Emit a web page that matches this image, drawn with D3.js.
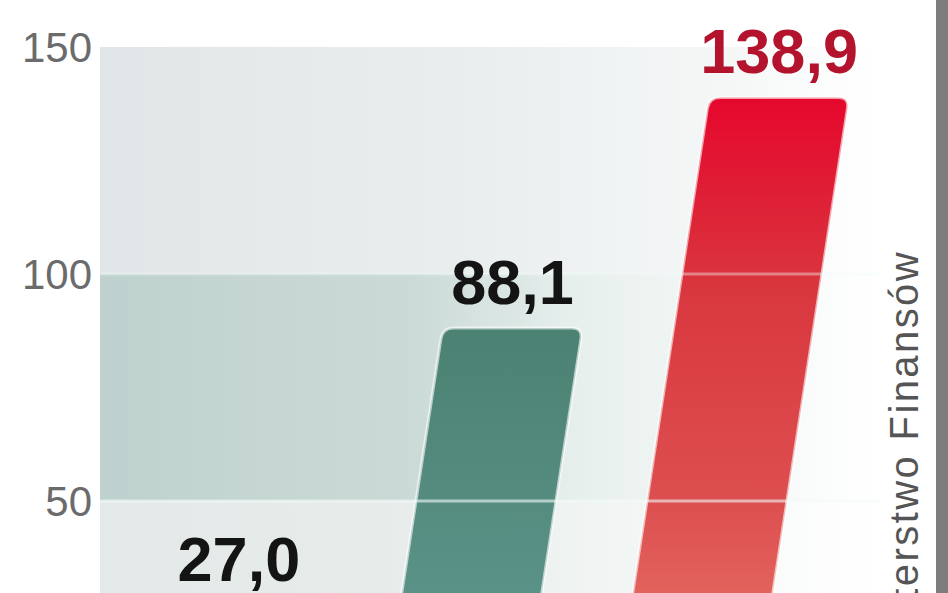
<!DOCTYPE html>
<html lang="pl">
<head>
<meta charset="utf-8">
<title>Wykres</title>
<script src="https://cdn.jsdelivr.net/npm/d3@7"></script>
<style>
  html, body { margin: 0; padding: 0; background: #fff; }
  svg { display: block; }
</style>
</head>
<body>
<script>
// dane
var categories = ["I", "II", "III"];
var values = [27.0, 88.1, 138.9];
var valueLabels = ["27,0", "88,1", "138,9"];
var ticks = [50, 100, 150];
var source = "Ministerstwo Finansów";

var W = 948, H = 593;
var svg = d3.select("body").append("svg")
  .attr("width", W)
  .attr("height", H);

var y = d3.scaleLinear().domain([0, 150]).range([728, 47]);
// srodki slupkow na linii zera
var x = d3.scalePoint().domain(categories).range([220, 682]);
var barW = 140;
var k = 0.154;      // pochylenie slupkow
var rr = 11;        // zaokraglenie
function off(yy) { return (y(0) - yy) * k; }

var defs = svg.append("defs");

function hGrad(id, stops) {
  var g = defs.append("linearGradient").attr("id", id)
    .attr("x1", 0).attr("x2", 1).attr("y1", 0).attr("y2", 0);
  stops.forEach(function(s) {
    g.append("stop").attr("offset", s[0]).attr("stop-color", s[1]);
  });
}
function vGrad(id, stops) {
  var g = defs.append("linearGradient").attr("id", id)
    .attr("gradientUnits", "userSpaceOnUse")
    .attr("x1", 0).attr("x2", 0).attr("y1", 0).attr("y2", H);
  stops.forEach(function(s) {
    g.append("stop").attr("offset", s[0]).attr("stop-color", s[1]);
  });
}

hGrad("bandTop", [[0, "#e1e6e8"], [0.45, "#e8edee"], [0.8, "#f5f7f7"], [1, "#ffffff"]]);
hGrad("bandMid", [[0, "#bfd1ce"], [0.4, "#cadad7"], [0.62, "#e8f0ee"], [1, "#ffffff"]]);
hGrad("bandLow", [[0, "#e3e9e8"], [0.45, "#e8edec"], [0.75, "#f5f8f7"], [1, "#ffffff"]]);
vGrad("gGreen", [[0, "#3a7a67"], [0.55, "#4a8172"], [1, "#5b9287"]]);
vGrad("gRed", [[0.15, "#e6052c"], [0.5, "#d9383f"], [0.85, "#dd4f50"], [1, "#e2625c"]]);

// pasy tla
var bx0 = 100, bx1 = 880;
var bands = [
  { from: 100, to: 150, fill: "url(#bandTop)" },
  { from: 50, to: 100, fill: "url(#bandMid)" },
  { from: 0, to: 50, fill: "url(#bandLow)" }
];
svg.selectAll("rect.band")
  .data(bands)
  .enter().append("rect")
  .attr("class", "band")
  .attr("x", bx0)
  .attr("width", bx1 - bx0)
  .attr("y", function(d) { return y(d.to); })
  .attr("height", function(d) { return y(d.from) - y(d.to); })
  .attr("fill", function(d) { return d.fill; });

// slupki
function barPath(d, i) {
  var c = x(categories[i]);
  var top = y(d);
  var base = y(0);
  var lx0 = c - barW / 2, rx0 = c + barW / 2;
  var p = d3.path();
  p.moveTo(lx0, base);
  p.lineTo(lx0 + off(top + rr), top + rr);
  p.quadraticCurveTo(lx0 + off(top), top, lx0 + off(top) + rr, top);
  p.lineTo(rx0 + off(top) - rr, top);
  p.quadraticCurveTo(rx0 + off(top), top, rx0 + off(top + rr), top + rr);
  p.lineTo(rx0, base);
  p.closePath();
  return p.toString();
}
var fills = ["url(#gGreen)", "url(#gGreen)", "url(#gRed)"];

svg.selectAll("path.bar")
  .data(values)
  .enter().append("path")
  .attr("class", "bar")
  .attr("d", barPath)
  .attr("fill", function(d, i) { return fills[i]; })
  .attr("stroke", "#ffffff")
  .attr("stroke-opacity", 0.6)
  .attr("stroke-width", 3);

// linie siatki
svg.selectAll("line.grid")
  .data([50, 100])
  .enter().append("line")
  .attr("class", "grid")
  .attr("x1", bx0).attr("x2", bx1)
  .attr("y1", function(d) { return y(d); })
  .attr("y2", function(d) { return y(d); })
  .attr("stroke", "#f3fbf9")
  .attr("stroke-opacity", function(d) { return d == 50 ? 0.6 : 0.4; })
  .attr("stroke-width", 3);

// opisy osi
svg.selectAll("text.tick")
  .data(ticks)
  .enter().append("text")
  .attr("class", "tick")
  .attr("x", 92)
  .attr("y", function(d) { return y(d); })
  .attr("dy", "0.36em")
  .attr("text-anchor", "end")
  .attr("font-family", "Liberation Sans, Arial, sans-serif")
  .attr("font-size", 42)
  .attr("fill", "#6b6b6b")
  .text(function(d) { return d; });

// wartosci
svg.selectAll("text.val")
  .data(values)
  .enter().append("text")
  .attr("class", "val")
  .attr("x", function(d, i) { return x(categories[i]) + off(y(d)); })
  .attr("y", function(d) { return y(d) - 24; })
  .attr("text-anchor", "middle")
  .attr("font-family", "Liberation Sans, Arial, sans-serif")
  .attr("font-weight", "bold")
  .attr("font-size", 63)
  .attr("fill", function(d, i) { return i == 2 ? "#b3132c" : "#141414"; })
  .text(function(d, i) { return valueLabels[i]; });

// zrodlo
svg.append("text")
  .attr("transform", "translate(918,250) rotate(-90)")
  .attr("text-anchor", "end")
  .attr("font-family", "Liberation Sans, Arial, sans-serif")
  .attr("font-size", 40)
  .attr("letter-spacing", 2.4)
  .attr("fill", "#555")
  .text(source);

// pasek z prawej
svg.append("rect")
  .attr("x", 936).attr("y", 0)
  .attr("width", 12).attr("height", H)
  .attr("fill", "#7d7d7d");
</script>
</body>
</html>
